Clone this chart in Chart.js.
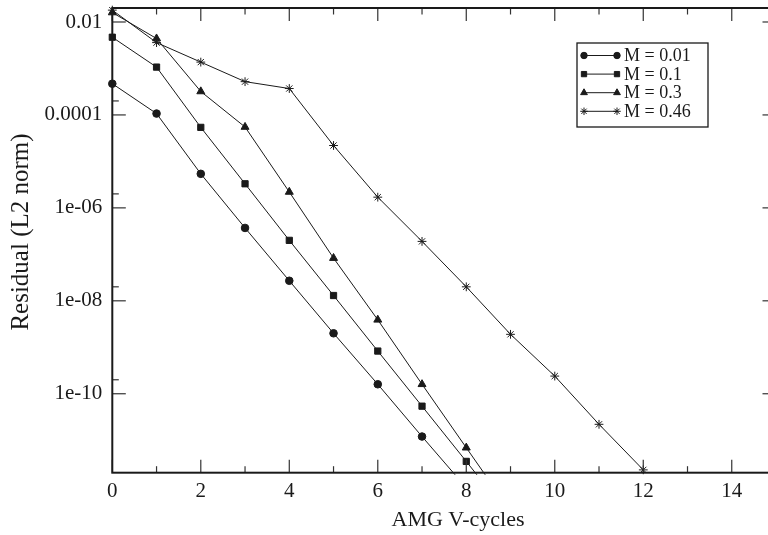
<!DOCTYPE html>
<html>
<head>
<meta charset="utf-8">
<title>AMG residual history</title>
<script src="https://cdn.jsdelivr.net/npm/chart.js@4"></script>
<style>
  html, body { margin: 0; padding: 0; background: #fff; overflow: hidden; }
  #wrap { position: relative; width: 790px; height: 535px; }
</style>
</head>
<body>
<div id="wrap"><canvas id="chart"></canvas></div>
<script>
// ===== Data =====
const cycles = [0, 1, 2, 3, 4, 5, 6, 7, 8, 9, 10, 11, 12];

const resM001 = [4.7e-4, 1.07e-4, 5.4e-6, 3.7e-7, 2.7e-8, 2.0e-9, 1.6e-10, 1.2e-11, 9.5e-13];
const resM01  = [4.7e-3, 1.07e-3, 5.4e-5, 3.3e-6, 2.0e-7, 1.3e-8, 8.3e-10, 5.4e-11, 3.5e-12, 2.2e-13];
const resM03  = [1.6e-2, 4.4e-3, 3.2e-4, 5.5e-5, 2.2e-6, 8.3e-8, 3.9e-9, 1.6e-10, 6.9e-12, 3.0e-13];
const resM046 = [1.8e-2, 3.6e-3, 1.37e-3, 5.2e-4, 3.7e-4, 2.2e-5, 1.7e-6, 1.9e-7, 2.0e-8, 1.9e-9, 2.4e-10, 2.2e-11, 2.3e-12];

const seriesLabels = ['M = 0.01', 'M = 0.1', 'M = 0.3', 'M = 0.46'];

const yTickValues = [1e-10, 1e-8, 1e-6, 1e-4, 1e-2];
const yTickLabels = ['1e-10', '1e-08', '1e-06', '0.0001', '0.01'];
const xTickValues = [0, 2, 4, 6, 8, 10, 12, 14];

// ===== Style =====
const INK = '#1a1a1a';
const SERIF = "'Liberation Serif', 'DejaVu Serif', serif";

const toPoints = vals => vals.map((v, i) => ({ x: cycles[i], y: v }));

const series = [
  { data: resM001, style: 'circle',   r: 3.8 },
  { data: resM01,  style: 'rect',     r: 4.4 },
  { data: resM03,  style: 'triangle', r: 4.6 },
  { data: resM046, style: 'star',     r: 4.4 }
];

// ===== Plugins: frame with inward ticks, axis titles, legend =====
const framePlugin = {
  id: 'frame',
  afterDatasetsDraw(chart) {
    const { ctx, chartArea: a, scales: { x, y } } = chart;
    const seg = (x1, y1, x2, y2) => { ctx.beginPath(); ctx.moveTo(x1, y1); ctx.lineTo(x2, y2); ctx.stroke(); };
    ctx.save();
    ctx.strokeStyle = '#333';
    ctx.lineWidth = 1.2;
    for (let v = 0; v <= 15; v++) {
      const px = x.getPixelForValue(v);
      const len = v % 2 ? 6.5 : 13;
      seg(px, a.bottom, px, a.bottom - len);
      seg(px, a.top, px, a.top + len);
    }
    yTickValues.forEach(v => {
      [v, v * 2].forEach((t, k) => {
        const py = y.getPixelForValue(t);
        const len = k ? 6.5 : 13.5;
        seg(a.left, py, a.left + len, py);
        seg(a.right, py, a.right - len, py);
      });
    });
    ctx.strokeStyle = INK;
    ctx.lineWidth = 2;
    ctx.strokeRect(a.left, a.top, a.right - a.left, a.bottom - a.top);
    ctx.restore();
  }
};

const titlesPlugin = {
  id: 'titles',
  afterDraw(chart) {
    const ctx = chart.ctx;
    ctx.save();
    ctx.fillStyle = INK;
    ctx.textAlign = 'center';
    ctx.textBaseline = 'middle';
    ctx.font = '22px ' + SERIF;
    ctx.fillText('AMG V-cycles', 458, 520);
    ctx.translate(21, 232);
    ctx.rotate(-Math.PI / 2);
    ctx.font = '25px ' + SERIF;
    ctx.fillText('Residual (L2 norm)', 0, 0);
    ctx.restore();
  }
};

const legendPlugin = {
  id: 'legendBox',
  afterDraw(chart) {
    const ctx = chart.ctx;
    ctx.save();
    ctx.fillStyle = '#fff';
    ctx.fillRect(577, 43, 131, 84);
    ctx.strokeStyle = INK;
    ctx.lineWidth = 1.3;
    ctx.strokeRect(577, 43, 131, 84);
    ctx.font = '18px ' + SERIF;
    ctx.textBaseline = 'middle';
    chart.data.datasets.forEach((ds, i) => {
      const yy = 55.5 + i * 18.6;
      ctx.strokeStyle = INK;
      ctx.fillStyle = INK;
      ctx.lineWidth = 1;
      ctx.beginPath(); ctx.moveTo(584, yy); ctx.lineTo(617, yy); ctx.stroke();
      [584, 617].forEach(px => Chart.helpers.drawPoint(ctx, {
        pointStyle: ds.pointStyle, radius: ds.pointRadius * 0.85, borderWidth: 1, rotation: 0
      }, px, yy));
      ctx.fillText(ds.label, 624, yy + 1);
    });
    ctx.restore();
  }
};

// ===== Chart =====
new Chart(document.getElementById('chart'), {
  type: 'line',
  data: {
    datasets: series.map((s, i) => ({
      label: seriesLabels[i],
      data: toPoints(s.data),
      borderColor: INK,
      backgroundColor: INK,
      borderWidth: 1,
      tension: 0,
      pointStyle: s.style,
      pointRadius: s.r,
      pointBorderWidth: 1,
      pointBackgroundColor: INK,
      pointBorderColor: INK,
      clip: { left: 8, top: 8, right: 8, bottom: 2 }
    }))
  },
  options: {
    responsive: true,
    maintainAspectRatio: false,
    animation: false,
    layout: { padding: { left: 0, top: 8, right: 14, bottom: 0 } },
    plugins: { legend: { display: false }, tooltip: { enabled: false } },
    scales: {
      x: {
        type: 'linear',
        min: 0, max: 15,
        grid: { display: false, drawTicks: false, tickLength: 0 },
        border: { display: false },
        afterBuildTicks: scale => { scale.ticks = xTickValues.map(v => ({ value: v })); },
        afterFit: scale => {
          scale.height = 62.3;
          scale.paddingLeft = 0;
          scale.paddingRight = 0;
        },
        ticks: {
          padding: 6,
          color: INK,
          maxRotation: 0,
          font: { family: SERIF, size: 21 }
        }
      },
      y: {
        type: 'logarithmic',
        min: 2e-12, max: 0.02,
        grid: { display: false, drawTicks: false, tickLength: 0 },
        border: { display: false },
        afterBuildTicks: scale => { scale.ticks = yTickValues.map(v => ({ value: v, major: true })); },
        afterFit: scale => {
          scale.width = 112.3;
          scale.paddingTop = 0;
          scale.paddingBottom = 0;
        },
        ticks: {
          padding: 10,
          color: INK,
          font: { family: SERIF, size: 21 },
          callback: (value) => {
            const i = yTickValues.findIndex(v => Math.abs(Math.log10(v) - Math.log10(value)) < 1e-6);
            return i >= 0 ? yTickLabels[i] : '';
          }
        }
      }
    }
  },
  plugins: [framePlugin, titlesPlugin, legendPlugin]
});
</script>
</body>
</html>
